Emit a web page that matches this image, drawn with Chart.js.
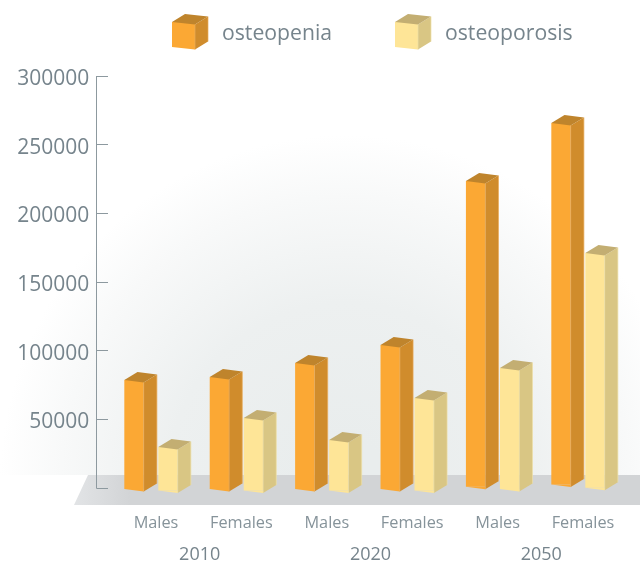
<!DOCTYPE html>
<html>
<head>
<meta charset="utf-8">
<title>Osteopenia and osteoporosis</title>
<script src="https://cdn.jsdelivr.net/npm/chart.js@4"></script>
<style>
    html, body { margin: 0; padding: 0; background: #fff; }
    #wrap { width: 640px; height: 561px; }
</style>
</head>
<body>
<div id="wrap"><canvas id="chart" width="640" height="561"></canvas></div>
<script>
// values
const categories = ['Males', 'Females', 'Males', 'Females', 'Males', 'Females'];
const years = ['2010', '2020', '2050'];
const osteopenia = [78600, 80800, 91000, 104100, 223500, 265800];
const osteoporosis = [29900, 51000, 35000, 65500, 87400, 171100];

const textColor = '#76848c';
const axisColor = '#8d999f';
const fontFamily = '"Open Sans", "Noto Sans", sans-serif';
const faces = {
    osteopenia: { front: '#fba834', side: '#d08c2c', top: '#bf842c', edge: '#e8ac5c' },
    osteoporosis: { front: '#fee597', side: '#d9c684', top: '#c3ae72', edge: '#eedfa8' }
};

// the bars stand on a floor seen in perspective, so their feet are not quite on zero
function footValue(series, i) {
    const lift = i < 4 ? 0 : i - 3;
    return series === 0 ? -700 + lift * 1600 : -1800 + lift * 1000;
}

function drawCube(ctx, left, top, right, bottom, colors, depthX, depthY, skew) {
    // side
    ctx.fillStyle = colors.side;
    ctx.beginPath();
    ctx.moveTo(right, top + skew);
    ctx.lineTo(right + depthX, top + skew - depthY);
    ctx.lineTo(right + depthX, bottom + skew - depthY);
    ctx.lineTo(right, bottom + skew);
    ctx.closePath();
    ctx.fill();
    // top
    ctx.fillStyle = colors.top;
    ctx.beginPath();
    ctx.moveTo(left, top);
    ctx.lineTo(right, top + skew);
    ctx.lineTo(right + depthX, top + skew - depthY);
    ctx.lineTo(left + depthX, top - depthY);
    ctx.closePath();
    ctx.fill();
    // sloped foot of the front face
    ctx.fillStyle = colors.front;
    ctx.beginPath();
    ctx.moveTo(left, bottom);
    ctx.lineTo(right, bottom + skew);
    ctx.lineTo(right, bottom);
    ctx.closePath();
    ctx.fill();
    // light edges
    ctx.strokeStyle = colors.edge;
    ctx.lineWidth = 0.7;
    ctx.beginPath();
    ctx.moveTo(right, top + skew);
    ctx.lineTo(right, bottom + skew);
    ctx.moveTo(right + depthX, top + skew - depthY);
    ctx.lineTo(right + depthX, bottom + skew - depthY);
    ctx.stroke();
}

const backdrop = {
    id: 'backdrop',
    beforeDraw(chart) {
        const ctx = chart.ctx;
        ctx.save();
        // soft grey glow behind the bars
        const glow = ctx.createRadialGradient(345, 480, 40, 345, 480, 345);
        glow.addColorStop(0, '#e9eded');
        glow.addColorStop(0.45, '#edf0f0');
        glow.addColorStop(0.8, '#f8f9f9');
        glow.addColorStop(1, '#ffffff');
        ctx.fillStyle = glow;
        ctx.fillRect(0, 0, 640, 475);
        // floor
        const floor = ctx.createLinearGradient(74, 0, 130, 0);
        floor.addColorStop(0, '#e2e4e6');
        floor.addColorStop(1, '#d2d4d6');
        ctx.fillStyle = floor;
        ctx.beginPath();
        ctx.moveTo(74, 505);
        ctx.lineTo(640, 505);
        ctx.lineTo(640, 475);
        ctx.lineTo(88, 475);
        ctx.closePath();
        ctx.fill();
        ctx.restore();
    }
};

const bars3d = {
    id: 'bars3d',
    afterDatasetsDraw(chart) {
        const ctx = chart.ctx;
        ctx.save();
        chart.data.datasets.forEach((dataset, d) => {
            chart.getDatasetMeta(d).data.forEach(bar => {
                const half = bar.width / 2;
                drawCube(ctx, bar.x - half, bar.y, bar.x + half, bar.base, dataset.faces, 13.2, 8, 2.5);
            });
        });
        ctx.restore();
    }
};

const yAxisLine = {
    id: 'yAxisLine',
    afterDraw(chart) {
        const y = chart.scales.y;
        const x = Math.round(y.right - y.options.grid.tickLength) + 0.5;
        const ctx = chart.ctx;
        ctx.save();
        ctx.strokeStyle = axisColor;
        ctx.lineWidth = 1;
        ctx.beginPath();
        ctx.moveTo(x, y.top);
        ctx.lineTo(x, y.bottom);
        ctx.stroke();
        ctx.restore();
    }
};

const cubeLegend = {
    id: 'cubeLegend',
    afterDraw(chart) {
        const ctx = chart.ctx;
        const starts = [172, 395];
        ctx.save();
        chart.data.datasets.forEach((dataset, d) => {
            const x = starts[d];
            ctx.fillStyle = dataset.faces.front;
            ctx.fillRect(x, 22, 23, 25);
            drawCube(ctx, x, 22, x + 23, 47, dataset.faces, 13, 8, 2.5);
            ctx.fillStyle = textColor;
            ctx.font = '21.2px ' + fontFamily;
            ctx.textAlign = 'left';
            ctx.textBaseline = 'alphabetic';
            ctx.fillText(dataset.label, x + 50, 40);
        });
        ctx.restore();
    }
};

new Chart(document.getElementById('chart'), {
    type: 'bar',
    data: {
        labels: categories,
        datasets: [
            {
                label: 'osteopenia',
                data: osteopenia.map((v, i) => [footValue(0, i), v]),
                backgroundColor: faces.osteopenia.front,
                faces: faces.osteopenia,
                clip: false
            },
            {
                label: 'osteoporosis',
                data: osteoporosis.map((v, i) => [footValue(1, i), v]),
                backgroundColor: faces.osteoporosis.front,
                faces: faces.osteoporosis,
                clip: false
            }
        ]
    },
    plugins: [backdrop, bars3d, yAxisLine, cubeLegend],
    options: {
        responsive: false,
        animation: false,
        categoryPercentage: 0.796,
        barPercentage: 0.57,
        layout: { padding: { top: 76, right: 19.3, left: 0, bottom: 0 } },
        plugins: {
            legend: { display: false },
            tooltip: { enabled: false }
        },
        scales: {
            x: {
                grid: { display: false },
                border: { display: false },
                ticks: {
                    color: '#86939a',
                    font: { family: fontFamily, size: 16.3 },
                    padding: 18,
                    labelOffset: 5,
                    maxRotation: 0,
                    autoSkip: false
                },
                afterFit(scale) {
                    scale.height = 46;
                    scale.paddingLeft = 0;
                    scale.paddingRight = 0;
                }
            },
            x2: {
                type: 'category',
                axis: 'x',
                position: 'bottom',
                labels: years,
                grid: { display: false },
                border: { display: false },
                ticks: {
                    color: textColor,
                    font: { family: fontFamily, size: 18 },
                    padding: 2,
                    labelOffset: 6,
                    maxRotation: 0,
                    autoSkip: false
                },
                afterFit(scale) {
                    scale.height = 27;
                    scale.paddingLeft = 0;
                    scale.paddingRight = 0;
                }
            },
            y: {
                min: 0,
                max: 300000,
                border: { display: false },
                grid: {
                    drawOnChartArea: false,
                    drawTicks: true,
                    tickLength: 12,
                    tickColor: axisColor
                },
                ticks: {
                    stepSize: 50000,
                    color: textColor,
                    font: { family: fontFamily, size: 21 },
                    padding: 7,
                    labelOffset: 3,
                    callback: v => (v === 0 ? '' : String(v))
                },
                afterFit(scale) {
                    scale.width = 108.3;
                    scale.paddingTop = 0;
                    scale.paddingBottom = 0;
                }
            }
        }
    }
});
</script>
</body>
</html>
